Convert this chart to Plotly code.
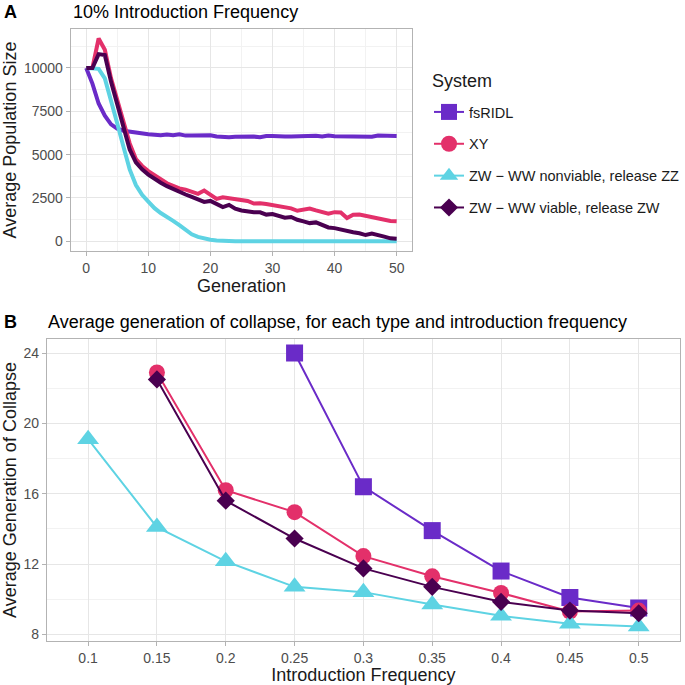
import plotly.graph_objects as go

# Panel A: average population size per generation (10% introduction frequency)
generation = list(range(51))
pop_fsridl = [10000, 9100, 7950, 7250, 6750, 6500, 6380, 6320, 6270, 6220, 6180,
              6150, 6120, 6160, 6120, 6180, 6100, 6110, 6120, 6140, 6120,
              6050, 6020, 6000, 6030, 6050, 6060, 6040, 6000, 6070, 6080,
              6050, 6040, 6050, 6070, 6060, 6080, 6090, 6050, 6100, 6060,
              6050, 6060, 6040, 6050, 6050, 6030, 6100, 6080, 6070, 6080]
pop_xy = [10000, 10000, 11700, 11050, 9400, 8200, 6900, 5650, 4750, 4350, 4050,
          3800, 3580, 3350, 3200, 3050, 2980, 2830, 2740, 2930, 2720,
          2450, 2540, 2500, 2450, 2400, 2330, 2180, 2200, 2150, 2080,
          2000, 1930, 1900, 1760, 1850, 1890, 1780, 1680, 1590, 1680,
          1660, 1340, 1530, 1550, 1470, 1400, 1320, 1240, 1170, 1150]
pop_zw_nonviable = [10000, 10000, 9950, 9400, 8200, 6800, 5450, 4150, 3250, 2680, 2290,
                    1910, 1630, 1420, 1180, 930, 640, 400, 250, 150, 90,
                    50, 20, 10, 0, 0, 0, 0, 0, 0, 0,
                    0, 0, 0, 0, 0, 0, 0, 0, 0, 0,
                    0, 0, 0, 0, 0, 0, 0, 0, 0, 0]
pop_zw_viable = [10000, 10000, 10800, 10750, 9200, 7900, 6500, 5300, 4550, 4150, 3850,
                 3600, 3380, 3180, 3000, 2850, 2700, 2560, 2440, 2270, 2330,
                 2130, 1970, 2100, 1880, 1780, 1720, 1680, 1670, 1540, 1570,
                 1450, 1360, 1400, 1240, 1150, 1050, 1090, 960, 800, 760,
                 670, 590, 520, 460, 360, 440, 380, 270, 170, 150]

# Panel B: average generation of collapse by introduction frequency
freq_labels = ["0.1", "0.15", "0.2", "0.25", "0.3", "0.35", "0.4", "0.45", "0.5"]
collapse_fsridl = [None, None, None, 24.0, 16.4, 13.9, 11.6, 10.1, 9.5]
collapse_xy = [None, 22.9, 16.2, 14.95, 12.45, 11.3, 10.35, 9.3, 9.35]
collapse_zw_nonviable = [19.1, 14.1, 12.15, 10.7, 10.4, 9.7, 9.05, 8.6, 8.45]
collapse_zw_viable = [None, 22.5, 15.6, 13.45, 11.75, 10.7, 9.85, 9.35, 9.2]

systems = ["fsRIDL", "XY", "ZW − WW nonviable, release ZZ", "ZW − WW viable, release ZW"]
colors = ["#6A2BC8", "#E3306A", "#5ED3E3", "#4A0050"]
symbols = ["square", "circle", "triangle-up", "diamond"]
msizes = [17, 16, 19, 14]
pops = [pop_fsridl, pop_xy, pop_zw_nonviable, pop_zw_viable]
collapses = [collapse_fsridl, collapse_xy, collapse_zw_nonviable, collapse_zw_viable]

FONT = "Liberation Sans, Arial, sans-serif"
W = H = 685

fig = go.Figure()
for name, col, pop in zip(systems, colors, pops):
    fig.add_trace(go.Scatter(x=generation, y=pop, mode="lines", name=name,
                             line=dict(color=col, width=4), showlegend=False,
                             xaxis="x", yaxis="y"))
for i, (name, col, sym, ms, coll) in enumerate(zip(systems, colors, symbols, msizes, collapses)):
    fig.add_trace(go.Scatter(x=freq_labels, y=coll, mode="lines+markers", name=name,
                             line=dict(color=col, width=2),
                             marker=dict(color=col, symbol=sym, size=ms),
                             legendgroup=str(i), xaxis="x2", yaxis="y2"))

grid = "#E6E6E6"
minor_grid = "#F2F2F2"
border = "#B3B3B3"
tickfont = dict(family=FONT, size=14, color="#4D4D4D")
titlefont = dict(family=FONT, size=18, color="#1A1A1A")

axis_common = dict(showline=True, mirror=True, linecolor=border, linewidth=1,
                   ticks="outside", ticklen=4, tickcolor=border, tickfont=tickfont,
                   gridcolor=grid, gridwidth=1, zeroline=False, automargin=False)

fig.update_layout(
    width=W, height=H,
    margin=dict(l=0, r=0, t=0, b=0),
    paper_bgcolor="white", plot_bgcolor="white",
    font=dict(family=FONT, color="#1A1A1A"),
    xaxis=dict(domain=[71 / W, 414 / W], anchor="y", range=[-2.5, 52.5],
               tick0=0, dtick=10,
               minor=dict(dtick=5, showgrid=True, gridcolor=minor_grid),
               title=dict(text="Generation", font=titlefont, standoff=4),
               **axis_common),
    yaxis=dict(domain=[1 - 251 / H, 1 - 29 / H], anchor="x", range=[-560, 12250],
               tick0=0, dtick=2500, tickformat="d",
               minor=dict(dtick=1250, showgrid=True, gridcolor=minor_grid),
               title=dict(text="Average Population Size", font=titlefont, standoff=8),
               **axis_common),
    xaxis2=dict(domain=[47 / W, 683 / W], anchor="y2", type="category",
                categoryorder="array", categoryarray=freq_labels, range=[-0.6, 8.6],
                title=dict(text="Introduction Frequency", font=titlefont, standoff=4),
                **axis_common),
    yaxis2=dict(domain=[1 - 641 / H, 1 - 339 / H], anchor="x2", range=[7.62, 24.8],
                tickvals=[8, 12, 16, 20, 24],
                minor=dict(tickvals=[10, 14, 18, 22], showgrid=True, gridcolor=minor_grid, ticks=""),
                title=dict(text="Average Generation of Collapse", font=titlefont, standoff=6),
                **axis_common),
    legend=dict(x=431 / W, y=1 - 96 / H, xanchor="left", yanchor="top",
                font=dict(family=FONT, size=14.5, color="#1A1A1A"),
                traceorder="grouped", tracegroupgap=10, bgcolor="rgba(0,0,0,0)"),
    annotations=[
        dict(text="<b>A</b>", x=2 / W, y=1 - 12 / H, xref="paper", yref="paper",
             xanchor="left", yanchor="middle", showarrow=False,
             font=dict(family=FONT, size=18, color="black")),
        dict(text="10% Introduction Frequency", x=71 / W, y=1 - 12 / H, xref="paper", yref="paper",
             xanchor="left", yanchor="middle", showarrow=False,
             font=dict(family=FONT, size=18, color="black")),
        dict(text="System", x=432 / W, y=1 - 81 / H, xref="paper", yref="paper",
             xanchor="left", yanchor="middle", showarrow=False,
             font=dict(family=FONT, size=18, color="#1A1A1A")),
        dict(text="<b>B</b>", x=2 / W, y=1 - 322 / H, xref="paper", yref="paper",
             xanchor="left", yanchor="middle", showarrow=False,
             font=dict(family=FONT, size=18, color="black")),
        dict(text="Average generation of collapse, for each type and introduction frequency",
             x=46 / W, y=1 - 322 / H, xref="paper", yref="paper",
             xanchor="left", yanchor="middle", showarrow=False,
             font=dict(family=FONT, size=18, color="black")),
    ],
)

fig.write_html("out.html", config={"displayModeBar": False},
               post_script="document.body.style.margin='0';")
